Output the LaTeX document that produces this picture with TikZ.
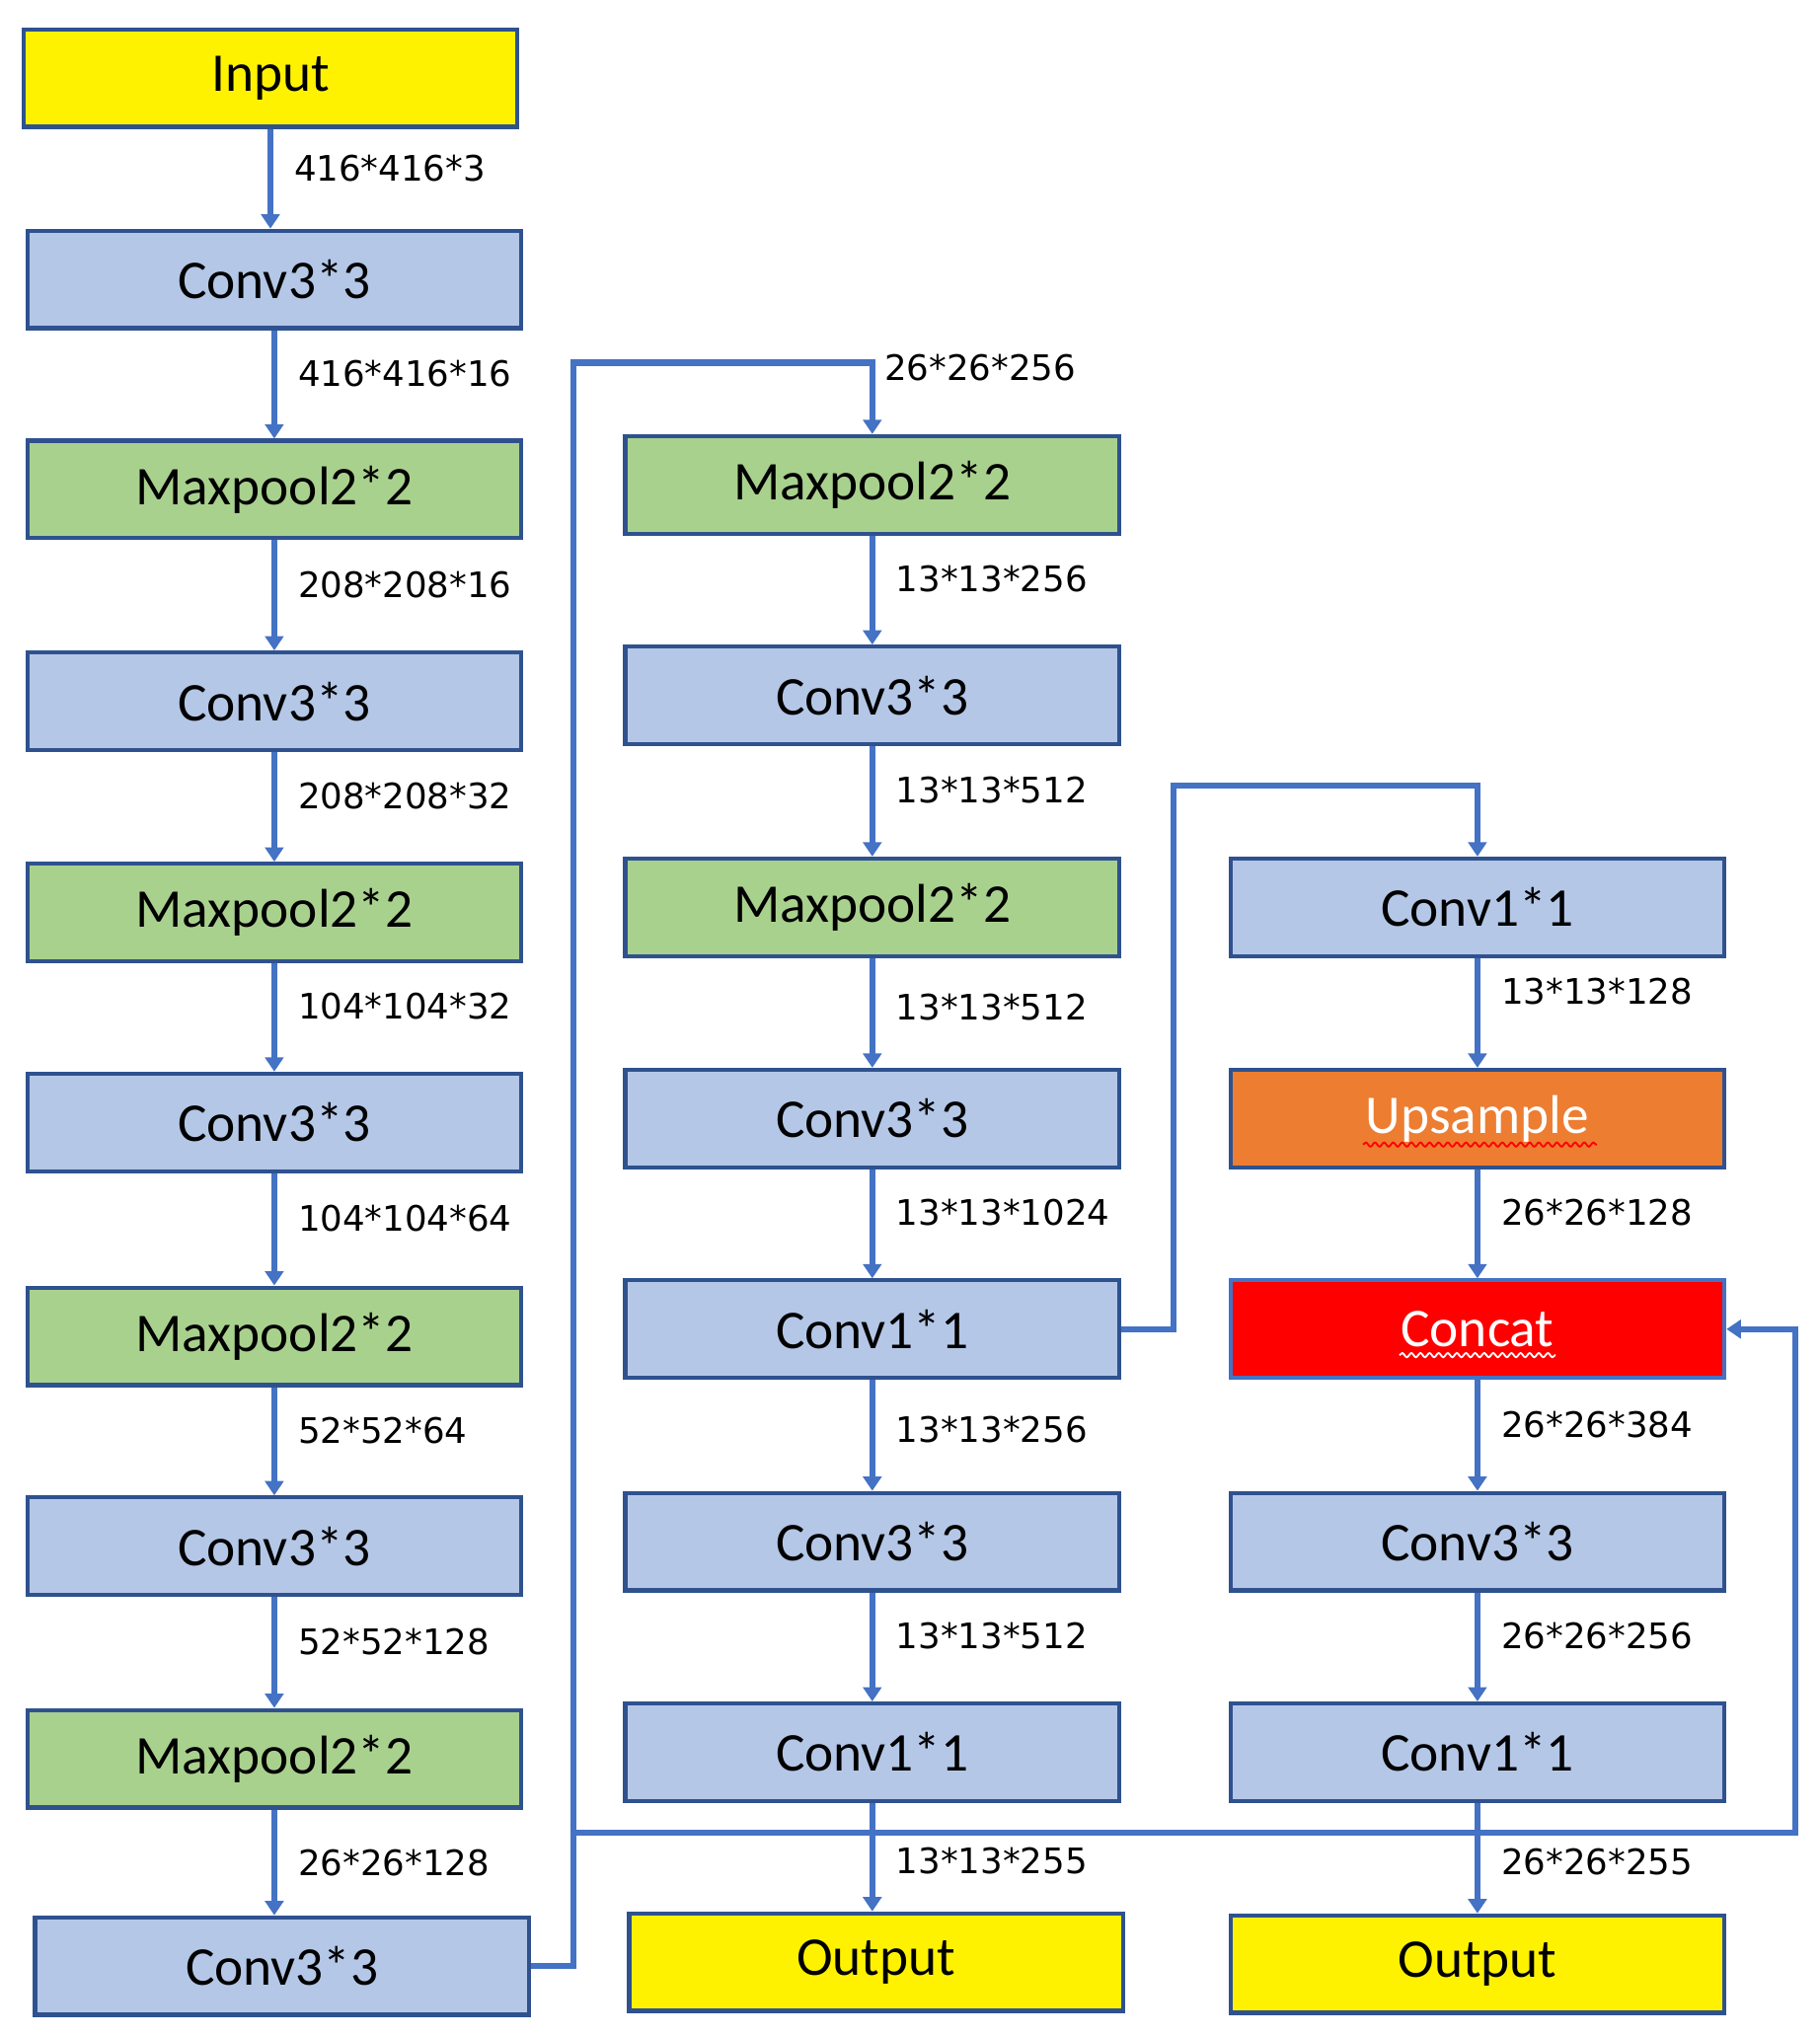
\documentclass[tikz,border=0pt]{standalone}
\usepackage{fontspec}
\setmainfont{Carlito}
\newfontfamily\dimfont{DejaVu Sans}
\usetikzlibrary{arrows.meta,decorations.pathmorphing}
\definecolor{boxline}{HTML}{2F528F}
\definecolor{flowblue}{HTML}{4472C4}
\definecolor{convblue}{HTML}{B4C7E7}
\definecolor{poolgreen}{HTML}{A9D18E}
\definecolor{upor}{HTML}{ED7D31}
\tikzset{
  layer/.style = {shape=rectangle, draw=boxline, line width=1.6pt,
    minimum width=190pt, minimum height=37.5pt, inner sep=0pt,
    font=\fontsize{21}{25}\selectfont},
  conv/.style = {layer, fill=convblue},
  pool/.style = {layer, fill=poolgreen},
  io/.style = {layer, fill=yellow},
  flow/.style = {draw=flowblue, line width=2.3pt,
    -{Triangle[width=7pt,length=5.5pt]}},
  dim/.style = {anchor=west, inner sep=0pt, xshift=8pt, pos=0.4,
    font=\dimfont\fontsize{13.5}{16}\selectfont},
  wavy/.style = {draw=red, line width=0.7pt, decorate,
    decoration={snake, amplitude=0.8pt, segment length=3.5pt}}
}
\begin{document}
\begin{tikzpicture}[x=0.5pt, y=-0.5pt]
  \useasboundingbox (0,0) rectangle (1400,1566.3);
  % backbone
  \node[io]   (in) at (208,60)    {Input};
  \node[conv] (c1) at (211,215)   {Conv3*3};
  \node[pool] (p1) at (211,376.5) {Maxpool2*2};
  \node[conv] (c2) at (211,539.5) {Conv3*3};
  \node[pool] (p2) at (211,702)   {Maxpool2*2};
  \node[conv] (c3) at (211,863.5) {Conv3*3};
  \node[pool] (p3) at (211,1028)  {Maxpool2*2};
  \node[conv] (c4) at (211,1189.5) {Conv3*3};
  \node[pool] (p4) at (211,1353)  {Maxpool2*2};
  \node[conv] (c5) at (217,1512.5) {Conv3*3};
  % middle column
  \node[pool] (p5) at (671,373)    {Maxpool2*2};
  \node[conv] (c6) at (671,535)    {Conv3*3};
  \node[pool] (p6) at (671,698)    {Maxpool2*2};
  \node[conv] (c7) at (671,860.5)  {Conv3*3};
  \node[conv] (k1) at (671,1022.5) {Conv1*1};
  \node[conv] (c8) at (671,1186)   {Conv3*3};
  \node[conv] (k2) at (671,1348)   {Conv1*1};
  \node[io]   (out1) at (674,1509.5) {Output};
  % right column
  \node[conv] (k3) at (1136.5,698)   {Conv1*1};
  \node[layer, fill=upor, text=white] (up) at (1136.5,860.5) {Upsample};
  \node[layer, fill=red, draw=flowblue, text=white] (cat) at (1136.5,1022.5) {Concat};
  \node[conv] (c9) at (1136.5,1186)  {Conv3*3};
  \node[conv] (k4) at (1136.5,1348)  {Conv1*1};
  \node[io]   (out2) at (1136.5,1511) {Output};
  \draw[wavy] ([shift={(-88,20)}]up.center) -- ([shift={(92,20)}]up.center);
  \draw[wavy, draw=white] ([shift={(-60,20)}]cat.center) -- ([shift={(60,20)}]cat.center);
  % straight links
  \foreach \a/\b/\t/\p in {in/c1/416*416*3/0.4, c1/p1/416*416*16/0.4,
      p1/c2/208*208*16/0.4, c2/p2/208*208*32/0.4, p2/c3/104*104*32/0.4,
      c3/p3/104*104*64/0.4, p3/c4/52*52*64/0.4, c4/p4/52*52*128/0.4,
      p4/c5/26*26*128/0.5,
      p5/c6/13*13*256/0.4, c6/p6/13*13*512/0.4, p6/c7/13*13*512/0.45,
      c7/k1/13*13*1024/0.4, k1/c8/13*13*256/0.45, c8/k2/13*13*512/0.4,
      k2/out1/13*13*255/0.53,
      k3/up/13*13*128/0.3, up/cat/26*26*128/0.4, cat/c9/26*26*384/0.4,
      c9/k4/26*26*256/0.4, k4/out2/26*26*255/0.53}
    \draw[flow] (\a.south) -- node[dim, pos=\p] {\t} (\a.south |- \b.north);
  % routed links
  \coordinate (bus) at (441,0);
  \coordinate (top) at (0,279);
  \coordinate (low) at (0,1410);
  \coordinate (loop) at (1381,0);
  \coordinate (mid) at (903,0);
  \coordinate (hi) at (0,604);
  \draw[flow] (c5.east) -| (bus |- top) -| (p5.north);
  \node[anchor=west, inner sep=0pt, font=\dimfont\fontsize{13.5}{16}\selectfont]
    (t1) at (680,283) {26*26*256};
  \draw[flow] (bus |- c5.east) |- (loop |- low) |- (cat.east);
  \draw[flow] (k1.east) -| (mid |- hi) -| (k3.north);
\end{tikzpicture}
\end{document}
